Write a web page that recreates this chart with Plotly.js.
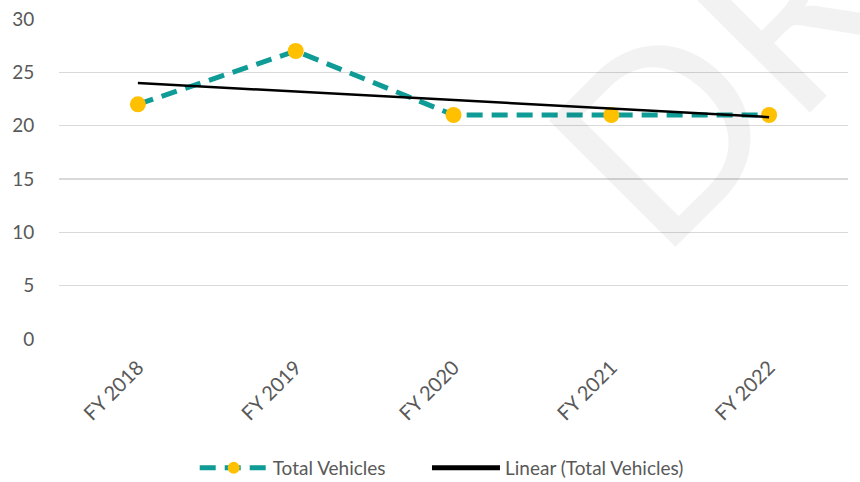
<!DOCTYPE html>
<html>
<head>
<meta charset="utf-8">
<script src="https://cdn.plot.ly/plotly-3.0.1.min.js"></script>
<style>html,body{margin:0;padding:0;background:#fff;}#chart{width:860px;height:482px;}</style>
</head>
<body>
<div id="chart"></div>
<script>
const categories = ["FY 2018", "FY 2019", "FY 2020", "FY 2021", "FY 2022"];
const totalVehicles = [22, 27, 21, 21, 21];
const trendCategories = ["FY 2018", "FY 2022"];
const trendValues = [24.0, 20.8];
const yTicks = [0, 5, 10, 15, 20, 25, 30];

const fontFam = "Lato, 'Open Sans', sans-serif";
const textColor = "#595959";

const traces = [
  {
    x: categories, y: totalVehicles, name: "Total Vehicles",
    type: "scatter", mode: "lines+markers", legend: "legend",
    line: {color: "#0f9b96", width: 5, dash: "16px,9px"},
    marker: {color: "#ffc000", size: 16}
  },
  {
    x: trendCategories, y: trendValues, name: "Linear (Total Vehicles)",
    type: "scatter", mode: "lines", legend: "legend2",
    line: {color: "#000000", width: 2.5}
  }
];

const legendBase = {
  orientation: "h", xref: "paper", xanchor: "left",
  yref: "container", y: 0.029, yanchor: "middle",
  font: {size: 19, color: textColor}, itemwidth: 68,
  itemsizing: "constant", bgcolor: "rgba(0,0,0,0)"
};

const layout = {
  width: 860, height: 482,
  margin: {l: 59, r: 12, t: 19, b: 143},
  paper_bgcolor: "#ffffff", plot_bgcolor: "#ffffff",
  font: {family: fontFam, color: textColor, size: 18},
  showlegend: true,
  legend: Object.assign({}, legendBase, {x: 0.172}),
  legend2: Object.assign({}, legendBase, {x: 0.4664}),
  xaxis: {
    type: "category", categoryarray: categories, range: [-0.5, 4.5],
    showgrid: false, zeroline: false, showline: false, automargin: false,
    tickangle: -45, tickfont: {size: 20, color: textColor},
    ticks: "outside", ticklen: 8, tickcolor: "rgba(0,0,0,0)"
  },
  yaxis: {
    range: [0, 30], tickvals: yTicks, showgrid: true, gridcolor: "#d9d9d9", gridwidth: 1.5,
    zeroline: false, showline: false, automargin: false,
    tickfont: {size: 19, color: textColor},
    ticks: "outside", ticklen: 20, tickcolor: "rgba(0,0,0,0)"
  },
  annotations: [{
    text: "DRAFT", xref: "paper", yref: "paper", x: 1.035, y: 1.34,
    xanchor: "center", yanchor: "middle", textangle: -45, showarrow: false,
    font: {family: fontFam, size: 250, color: "rgba(0,0,0,0.05)", weight: 400}
  }]
};

Plotly.newPlot("chart", traces, layout, {displayModeBar: false, staticPlot: true});
</script>
</body>
</html>
